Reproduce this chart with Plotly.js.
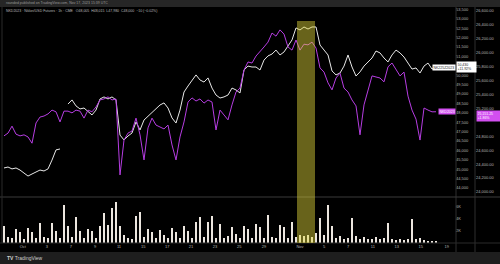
<!DOCTYPE html>
<html><head><meta charset="utf-8">
<script src="https://cdn.plot.ly/plotly-3.0.1.min.js"></script>
<style>html,body{margin:0;padding:0;background:#000;}#chart{width:500px;height:264px;}</style>
</head><body><div id="chart"></div>
<script>
// Series A (white, left price scale): NK225Z2023, hourly, sampled
const nk225Z = [45060,45110,45010,45060,44950,44790,44630,44740,44850,44950,44900,45010,45480,46020,46070,null,
48460,48680,48360,48200,48250,48040,47880,48140,48730,48840,48730,48840,48680,46810,46550,46760,46920,47510,47080,
47610,47820,47980,48200,48410,48520,48250,47720,47450,48140,49100,49420,49740,50010,49740,49630,49850,49310,48940,
48780,48840,48940,49310,49210,49050,50270,50480,50430,50430,50270,50800,51020,51120,51330,51070,51230,51550,51870,
52510,52400,52560,52450,52560,52560,51600,51330,51070,50220,50010,50110,50480,51070,50430,49950,50170,50480,50700,
50910,51280,51180,50910,50700,51070,51330,51180,50960,50640,50320,50380,50110,50480,50640,50320,50430];
// Series B (purple, right price scale): NKD2023
const nkd = [24805,24845,24945,24830,24805,24820,24790,24700,24990,25075,25090,25120,25175,25150,25005,25160,25160,
25135,25175,25160,25060,25175,25150,25220,25320,25335,25365,25320,25335,24245,24745,24845,24875,25060,24820,24460,
24920,25060,24960,24930,24905,24960,24675,24460,24790,25005,25290,25350,25305,25335,25275,25320,25290,24890,25175,
25105,25035,25250,25435,25490,25750,25865,25850,25950,26010,26080,26150,26280,26235,26325,26265,26080,26035,26180,
26035,26120,26110,26150,26065,25780,25720,25565,25465,25635,25705,25490,25435,25320,25235,24820,25250,25465,25665,
25650,25635,25580,25795,25850,25750,25665,25720,25375,25175,25045,24745,25205,25175,25150,25151.25];
// Volume
const volume = [2840,1000,835,2340,1840,670,2500,1840,835,3340,1000,835,3340,2000,835,6350,2840,1000,4340,2000,835,
2340,2000,835,2840,5010,3010,5850,6850,2840,1340,835,670,4510,5180,1000,2340,1840,835,2170,1340,835,2500,1840,835,
2840,2000,835,3510,4340,1000,3510,4510,835,3170,835,1170,2670,1500,835,2840,2340,835,3170,2670,835,4680,1000,835,
3010,2670,835,3510,1000,1340,1170,1340,1000,1670,4180,1340,6350,2840,835,1170,670,835,4180,1170,670,1000,670,670,
1000,670,835,3340,670,500,670,500,670,4010,670,835,500,330,330,330];
// Date labels (bar index where the day starts)
const tickIdx = [4.7,10.7,16.7,22.75,28.75,34.8,40.8,46.75,52.75,58.8,65,74,80,86,92.2,98.2,104.2,110.7];
const tickText = ['Oct','3','7','9','11','15','17','21','23','25','29','Nov','5','7','11','13','15','19'];
// Price-scale labels (those hidden behind the last-price boxes are left out, as in the original)
const scaleA = [44000,44500,45000,45500,46000,46500,47000,47500,48000,48500,49000,49500,50000,51000,51500,52000,52500,53000,53500];
const scaleB = [24000,24200,24400,24600,24800,25200,25400,25600,25800,26000,26200,26400,26600];
const highlightRange = [73.25, 77.75];
const nameA = 'NK225Z2023', changeA = '+11.92%';
const nameB = 'NKD2023', changeB = '+1.86%';

const idx = nk225Z.map((_, i) => i);
const lastA = nk225Z[nk225Z.length - 1];
const lastB = nkd[nkd.length - 1];
const FONT = 'Liberation Sans, Arial, sans-serif';
const AX = '#b4b4b4';
const PURPLE = '#b63de2';

const traces = [
  {x: idx, y: nkd, yaxis: 'y2', type: 'scatter', mode: 'lines', line: {color: PURPLE, width: 1}, hoverinfo: 'skip'},
  {x: idx, y: nk225Z, yaxis: 'y', type: 'scatter', mode: 'lines', line: {color: '#e8e8e8', width: 1}, connectgaps: false, hoverinfo: 'skip'},
  {x: idx, y: volume, yaxis: 'y3', type: 'bar', marker: {color: '#ece6df'}, width: 0.65, hoverinfo: 'skip'}
];

const px = (p) => (p - 3) / 472;      // pixel -> paper x
const py = (p) => (243 - p) / 235;    // pixel -> paper y

const layout = {
  width: 500, height: 264,
  margin: {l: 3, r: 25, t: 8, b: 21},
  paper_bgcolor: '#000', plot_bgcolor: '#000',
  showlegend: false, bargap: 0,
  font: {family: FONT, size: 4, color: AX},
  xaxis: {domain: [0, 452/472], range: [-0.25, 112.75], anchor: 'y3', showgrid: false, zeroline: false,
          tickmode: 'array', tickvals: tickIdx, ticktext: tickText, ticks: '', showline: false,
          tickfont: {size: 4, color: AX}},
  yaxis: {domain: [0.2, 1], range: [43569, 53569], side: 'right', anchor: 'x', tickmode: 'array', tickvals: scaleA,
          tickformat: ',d', showgrid: false, zeroline: false, ticks: '', tickfont: {size: 4, color: AX}},
  yaxis2: {overlaying: 'y', range: [23943, 26639], side: 'right', anchor: 'free', position: 1, tickmode: 'array', tickvals: scaleB,
           tickformat: ',.2f', showgrid: false, zeroline: false, ticks: '', tickfont: {size: 4, color: AX}},
  yaxis3: {domain: [0, 0.196], range: [0, 7667], side: 'right', anchor: 'x', tickmode: 'array',
           tickvals: [2000, 4000, 6000], ticktext: ['2K', '4K', '6K'], showgrid: false, zeroline: false, ticks: '',
           tickfont: {size: 4, color: AX}},
  shapes: [
    {type: 'rect', xref: 'paper', yref: 'paper', x0: px(0), x1: px(500), y0: py(0), y1: py(7), fillcolor: '#262626', line: {width: 0}, layer: 'below'},
    {type: 'rect', xref: 'paper', yref: 'paper', x0: px(0), x1: px(500), y0: py(252), y1: py(264), fillcolor: '#1e1e1e', line: {width: 0}, layer: 'below'},
    {type: 'line', xref: 'paper', yref: 'paper', x0: px(456), x1: px(456), y0: py(7), y1: py(252), line: {color: '#2e2e2e', width: 1}},
    {type: 'line', xref: 'paper', yref: 'paper', x0: px(475), x1: px(475), y0: py(7), y1: py(252), line: {color: '#2e2e2e', width: 1}},
    {type: 'line', xref: 'paper', yref: 'paper', x0: px(0), x1: px(500), y0: py(197), y1: py(197), line: {color: '#3a3a3a', width: 1}},
    {type: 'line', xref: 'paper', yref: 'paper', x0: px(0), x1: px(500), y0: py(243), y1: py(243), line: {color: '#2a2a2a', width: 1}},
    {type: 'line', xref: 'paper', yref: 'paper', x0: px(2), x1: px(2), y0: py(7), y1: py(243), line: {color: '#2a2a2a', width: 1}},
    {type: 'rect', xref: 'x', yref: 'paper', x0: highlightRange[0], x1: highlightRange[1], y0: 0, y1: py(21),
     fillcolor: 'rgba(230,220,60,0.45)', line: {width: 0}, layer: 'above'}
  ],
  annotations: [
    {xref: 'paper', yref: 'paper', x: px(4), y: py(3.5), xanchor: 'left', yanchor: 'middle', showarrow: false,
     text: 'rounded published on TradingView.com, Nov 17, 2023 15:39 UTC', font: {size: 3.5, color: '#9a9a9a'}},
    {xref: 'paper', yref: 'paper', x: px(4), y: py(11), xanchor: 'left', yanchor: 'middle', showarrow: false,
     text: 'NKD2023 · Nikkei/USD Futures · 1h · CME   O48,005  H48,015  L47,980  C48,000  −10 (−0.02%)',
     font: {size: 3.5, color: '#b8b8b8'}},
    {xref: 'paper', yref: 'paper', x: px(5), y: py(258), xanchor: 'left', yanchor: 'middle', showarrow: false,
     text: '<b>TV</b> TradingView', font: {size: 5, color: '#d0d0d0'}},
    {xref: 'paper', yref: 'y', x: px(455.5), y: lastA, xanchor: 'right', yanchor: 'middle', showarrow: false,
     text: nameA, bgcolor: '#ffffff', font: {size: 3.5, color: '#222'}, borderpad: 0.5},
    {xref: 'paper', yref: 'y', x: px(456), y: lastA, xanchor: 'left', yanchor: 'middle', showarrow: false,
     text: lastA.toLocaleString('en-US') + '<br>' + changeA, bgcolor: '#ffffff', width: 18, align: 'left',
     font: {size: 3.5, color: '#222'}, borderpad: 0.5},
    {xref: 'paper', yref: 'y2', x: px(455.5), y: lastB, xanchor: 'right', yanchor: 'middle', showarrow: false,
     text: nameB, bgcolor: '#d24ff0', font: {size: 3.5, color: '#fff'}, borderpad: 0.5},
    {xref: 'paper', yref: 'y2', x: px(475.5), y: lastB, xanchor: 'left', yanchor: 'top', yshift: 1.5, showarrow: false,
     text: lastB.toLocaleString('en-US', {minimumFractionDigits: 2}) + '<br>' + changeB, bgcolor: '#d24ff0', width: 23,
     align: 'left', font: {size: 3.5, color: '#fff'}, borderpad: 0.5}
  ]
};

Plotly.newPlot('chart', traces, layout, {staticPlot: true, displayModeBar: false});
</script>
</body></html>
